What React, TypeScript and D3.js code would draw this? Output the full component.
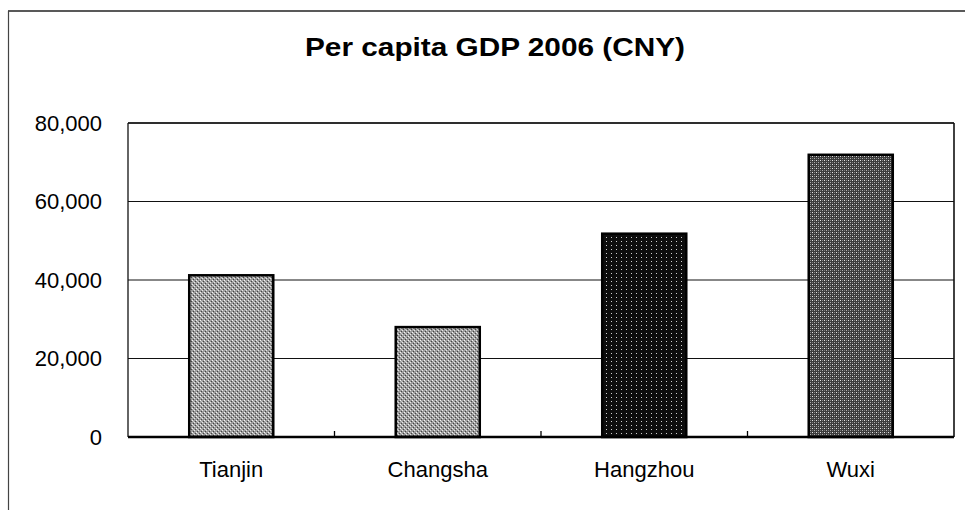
import React from "react";
import * as d3 from "d3";

const categories = ["Tianjin", "Changsha", "Hangzhou", "Wuxi"];
const values = [41200, 28000, 51800, 71900];
const yTicks = [0, 20000, 40000, 60000, 80000];
const title = "Per capita GDP 2006 (CNY)";

const W = 965;
const H = 510;
const plot = { left: 128, right: 954, top: 123, bottom: 437 };
const fills = ["url(#patLight)", "url(#patLight)", "url(#patBlack)", "url(#patDark)"];
const font = "'Liberation Sans', Arial, Helvetica, sans-serif";

export default function App() {
  const x = d3
    .scaleBand<string>()
    .domain(categories)
    .range([plot.left, plot.right])
    .paddingInner(0.593)
    .paddingOuter(0.2965);
  const y = d3.scaleLinear().domain([0, 80000]).range([plot.bottom, plot.top]);
  const fmt = d3.format(",");
  const step = x.step();
  const boundaries = categories.slice(1).map((c) => (x(c) as number) - (step - x.bandwidth()) / 2);

  return (
    <svg
      width={W}
      height={H}
      style={{ position: "absolute", left: 0, top: 0, background: "#fff" }}
      fontFamily={font}
    >
      <defs>
        <pattern id="patLight" width="4" height="4" patternUnits="userSpaceOnUse">
          <rect width="4" height="4" fill="#9c9c9c" />
          <rect x="0" y="0" width="1" height="1" fill="#f4f4f4" />
          <rect x="2" y="2" width="1" height="1" fill="#e8e8e8" />
          <rect x="1" y="3" width="1" height="1" fill="#444" />
          <rect x="3" y="1" width="1" height="1" fill="#444" />
          <rect x="1" y="1" width="1" height="1" fill="#c8c8c8" />
        </pattern>
        <pattern id="patBlack" width="5" height="4" patternUnits="userSpaceOnUse">
          <rect width="5" height="4" fill="#0d0d0d" />
          <rect x="1" y="1" width="1" height="1" fill="#cfcfcf" />
        </pattern>
        <pattern id="patDark" width="4" height="4" patternUnits="userSpaceOnUse">
          <rect width="4" height="4" fill="#3c3c3c" />
          <rect x="0" y="0" width="1" height="1" fill="#e6e6e6" />
          <rect x="2" y="2" width="1" height="1" fill="#b0b0b0" />
          <rect x="2" y="0" width="1" height="1" fill="#888" />
          <rect x="0" y="2" width="1" height="1" fill="#777" />
        </pattern>
      </defs>

      {/* outer frame */}
      <line x1={8} x2={W} y1={11} y2={11} stroke="#222" strokeWidth={1.5} />
      <line x1={8.5} x2={8.5} y1={11} y2={H} stroke="#444" strokeWidth={1.2} />

      {/* title */}
      <text
        x={495}
        y={56}
        textAnchor="middle"
        fontSize={25}
        fontWeight="bold"
        textLength={380}
        lengthAdjust="spacingAndGlyphs"
        fill="#000"
      >
        {title}
      </text>

      {/* gridlines */}
      {yTicks.map((t) => (
        <line
          key={"g" + t}
          x1={plot.left}
          x2={plot.right}
          y1={y(t)}
          y2={y(t)}
          stroke="#111"
          strokeWidth={1}
        />
      ))}
      {/* plot frame */}
      <line x1={plot.left} x2={plot.left} y1={plot.top} y2={plot.bottom} stroke="#111" strokeWidth={1.3} />
      <line x1={plot.right} x2={plot.right} y1={plot.top} y2={plot.bottom} stroke="#111" strokeWidth={1.6} />
      <line x1={plot.left} x2={plot.right} y1={plot.top} y2={plot.top} stroke="#111" strokeWidth={1.5} />

      {/* y tick labels */}
      {yTicks.map((t) => (
        <text
          key={"t" + t}
          x={102}
          y={y(t)}
          dy="0.36em"
          textAnchor="end"
          fontSize={22}
          fill="#000"
        >
          {fmt(t)}
        </text>
      ))}

      {/* bars */}
      {categories.map((c, i) => (
        <rect
          key={c}
          x={x(c)}
          y={y(values[i])}
          width={x.bandwidth()}
          height={y(0) - y(values[i])}
          fill={fills[i]}
          stroke="#000"
          strokeWidth={2.5}
        />
      ))}

      {/* baseline */}
      <line x1={plot.left} x2={plot.right} y1={plot.bottom} y2={plot.bottom} stroke="#000" strokeWidth={2.5} />
      {boundaries.map((b, i) => (
        <line key={"b" + i} x1={b} x2={b} y1={plot.bottom - 6} y2={plot.bottom} stroke="#000" strokeWidth={1.3} />
      ))}

      {/* category labels */}
      {categories.map((c) => (
        <text
          key={"c" + c}
          x={(x(c) as number) + x.bandwidth() / 2}
          y={477}
          textAnchor="middle"
          fontSize={22}
          fill="#000"
        >
          {c}
        </text>
      ))}
    </svg>
  );
}
